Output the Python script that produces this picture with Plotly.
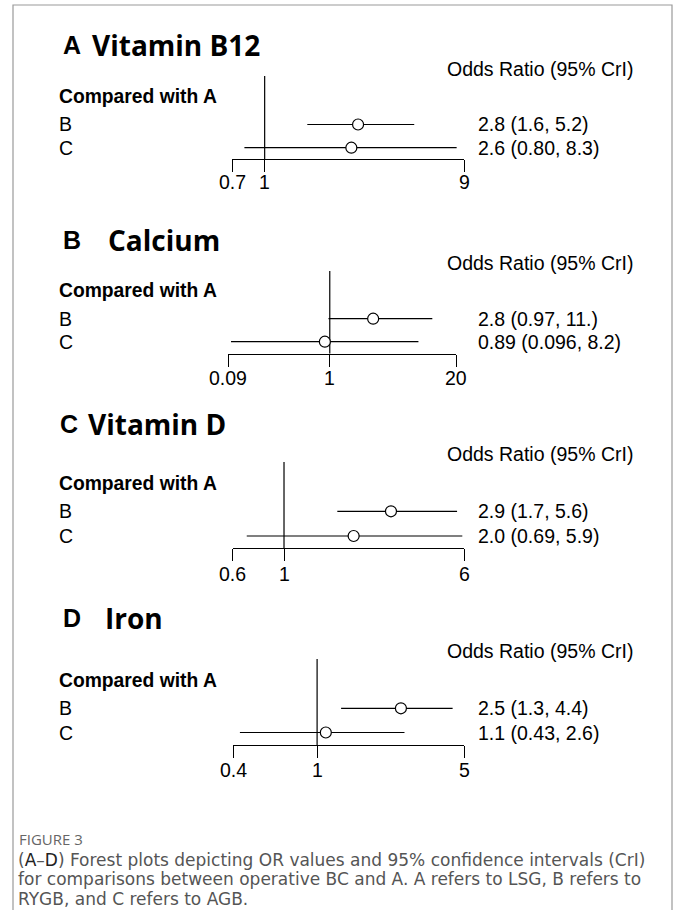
import math
import plotly.graph_objects as go

# ---------------- data ----------------
panel_letters = ["A", "B", "C", "D"]
panel_titles = ["Vitamin B12", "Calcium", "Vitamin D", "Iron"]
comparisons = ["B", "C"]

or_mean = [[2.8, 2.6], [2.8, 0.89], [2.9, 2.0], [2.5, 1.1]]
ci_low = [[1.6, 0.80], [0.97, 0.096], [1.7, 0.69], [1.3, 0.43]]
ci_high = [[5.2, 8.3], [11.4, 8.2], [5.6, 5.9], [4.4, 2.6]]
or_text = [["2.8 (1.6, 5.2)", "2.6 (0.80, 8.3)"],
           ["2.8 (0.97, 11.)", "0.89 (0.096, 8.2)"],
           ["2.9 (1.7, 5.6)", "2.0 (0.69, 5.9)"],
           ["2.5 (1.3, 4.4)", "1.1 (0.43, 2.6)"]]
tick_vals = [[0.7, 1, 9], [0.09, 1, 20], [0.6, 1, 6], [0.4, 1, 5]]
tick_text = [["0.7", "1", "9"], ["0.09", "1", "20"], ["0.6", "1", "6"], ["0.4", "1", "5"]]

header_text = "Odds Ratio (95% CrI)"
group_text = "Compared with A"
fig_label = "FIGURE 3"
caption_lines = [
    "(<span style='color:#222'>A</span>–<span style='color:#222'>D</span>) Forest plots depicting OR values and 95% confidence intervals (CrI)",
    "for comparisons between operative BC and A. A refers to LSG, B refers to",
    "RYGB, and C refers to AGB.",
]

# ---------------- layout (pixels) ----------------
W, H = 680, 910
geo = [
    dict(L=232.3, R=464.0, axis=159.3, top=76, pB=124.5, pC=147.7, lab=182.5,
         title=45, head=69, grp=97),
    dict(L=228.3, R=456.0, axis=353.7, top=271, pB=318.7, pC=341.7, lab=378,
         title=240, head=263, grp=290),
    dict(L=232.7, R=464.0, axis=548.0, top=462, pB=511.3, pC=536.0, lab=573.5,
         title=424, head=453.5, grp=483),
    dict(L=233.3, R=464.3, axis=745.0, top=659, pB=708.3, pC=732.5, lab=770,
         title=618, head=651, grp=680),
]
title_x = [(61, 90), (61, 106), (58, 86), (61, 103)]


def fx(p):
    return p / W


def fy(p):
    return 1 - p / H


FONT = "Liberation Sans, Arial, sans-serif"
fig = go.Figure()
annotations = []
layout_axes = {}

for i in range(4):
    g = geo[i]
    n = i + 1
    xa = "x" if n == 1 else f"x{n}"
    ya = "y" if n == 1 else f"y{n}"
    u = g["pC"] - g["pB"]
    y_rows = [2, 1]
    y_bot = 1 - (g["axis"] - g["pC"]) / u
    y_top = 2 + (g["pB"] - g["top"]) / u

    # reference line at OR = 1
    fig.add_trace(go.Scatter(x=[1, 1], y=[y_bot, y_top], mode="lines",
                             line=dict(color="black", width=1.2),
                             xaxis=xa, yaxis=ya, showlegend=False, hoverinfo="skip",
                             cliponaxis=False))
    # credible intervals
    for j in range(2):
        fig.add_trace(go.Scatter(x=[ci_low[i][j], ci_high[i][j]], y=[y_rows[j], y_rows[j]],
                                 mode="lines", line=dict(color="black", width=1.2),
                                 xaxis=xa, yaxis=ya, showlegend=False, hoverinfo="skip"))
    # point estimates
    fig.add_trace(go.Scatter(x=or_mean[i], y=y_rows, mode="markers",
                             marker=dict(symbol="circle", size=11, color="white",
                                         line=dict(color="black", width=1.2)),
                             xaxis=xa, yaxis=ya, showlegend=False, cliponaxis=False))

    lo, hi = tick_vals[i][0], tick_vals[i][-1]
    eps = 1e-6
    layout_axes["xaxis" if n == 1 else f"xaxis{n}"] = dict(
        domain=[fx(g["L"]), fx(g["R"])], type="log",
        range=[math.log10(lo) - eps, math.log10(hi) + eps],
        tickvals=tick_vals[i], ticktext=tick_text[i], showticklabels=False,
        ticks="outside", ticklen=12, tickwidth=1.2, tickcolor="black",
        showline=True, linecolor="black", linewidth=1.2,
        showgrid=False, zeroline=False, anchor=ya, fixedrange=True,
    )
    layout_axes["yaxis" if n == 1 else f"yaxis{n}"] = dict(
        domain=[fy(g["axis"]), fy(g["top"])], range=[y_bot, y_top],
        visible=False, anchor=xa, fixedrange=True,
    )

    # tick labels placed through the x scale
    for v, t in zip(tick_vals[i], tick_text[i]):
        annotations.append(dict(x=math.log10(v), xref=xa, y=fy(g["lab"]), yref="paper",
                                text=t, showarrow=False, xanchor="center", yanchor="middle",
                                font=dict(family=FONT, size=19.5, color="black")))

    # panel title
    annotations.append(dict(x=fx(title_x[i][0]), y=fy(g["title"]), xref="paper", yref="paper",
                            text=f"<b>{panel_letters[i]}</b>", showarrow=False,
                            xanchor="left", yanchor="middle",
                            font=dict(family="Liberation Sans, Arial", size=25, color="black")))
    annotations.append(dict(x=fx(title_x[i][1]), y=fy(g["title"]), xref="paper", yref="paper",
                            text=f"<b>{panel_titles[i]}</b>", showarrow=False,
                            xanchor="left", yanchor="middle",
                            font=dict(family="Open Sans", size=28, color="black")))
    annotations.append(dict(x=fx(445), y=fy(g["head"]), xref="paper", yref="paper",
                            text=header_text, showarrow=False, xanchor="left", yanchor="middle",
                            font=dict(family=FONT, size=19.5, color="black")))
    annotations.append(dict(x=fx(57), y=fy(g["grp"]), xref="paper", yref="paper",
                            text=f"<b>{group_text}</b>", showarrow=False, xanchor="left",
                            yanchor="middle", font=dict(family=FONT, size=19.3, color="black")))
    for j in range(2):
        py = g["pB"] if j == 0 else g["pC"]
        annotations.append(dict(x=fx(57), y=fy(py), xref="paper", yref="paper",
                                text=comparisons[j], showarrow=False, xanchor="left",
                                yanchor="middle", font=dict(family=FONT, size=19.5, color="black")))
        annotations.append(dict(x=fx(476), y=fy(py), xref="paper", yref="paper",
                                text=or_text[i][j], showarrow=False, xanchor="left",
                                yanchor="middle", font=dict(family=FONT, size=19.5, color="black")))

# caption
annotations.append(dict(x=fx(17), y=fy(839), xref="paper", yref="paper", text=fig_label,
                        showarrow=False, xanchor="left", yanchor="middle",
                        font=dict(family="Open Sans", size=15, color="#666666")))
for k, line in enumerate(caption_lines):
    annotations.append(dict(x=fx(16), y=fy(859.5 + 19.5 * k), xref="paper", yref="paper",
                            text=line, showarrow=False, xanchor="left", yanchor="middle",
                            font=dict(family="DejaVu Sans", size=17.0, color="#555555")))

shapes = [dict(type="rect", xref="paper", yref="paper", x0=fx(13), x1=fx(672),
               y0=-0.05, y1=fy(5), line=dict(color="#9a9a9a", width=1.2),
               fillcolor="rgba(0,0,0,0)")]

fig.update_layout(width=W, height=H, margin=dict(l=0, r=0, t=0, b=0),
                  paper_bgcolor="white", plot_bgcolor="white",
                  annotations=annotations, shapes=shapes, showlegend=False, **layout_axes)

fig.write_html("out.html", config={"displayModeBar": False},
               post_script="document.body.style.margin='0';document.body.style.overflow='hidden';")
